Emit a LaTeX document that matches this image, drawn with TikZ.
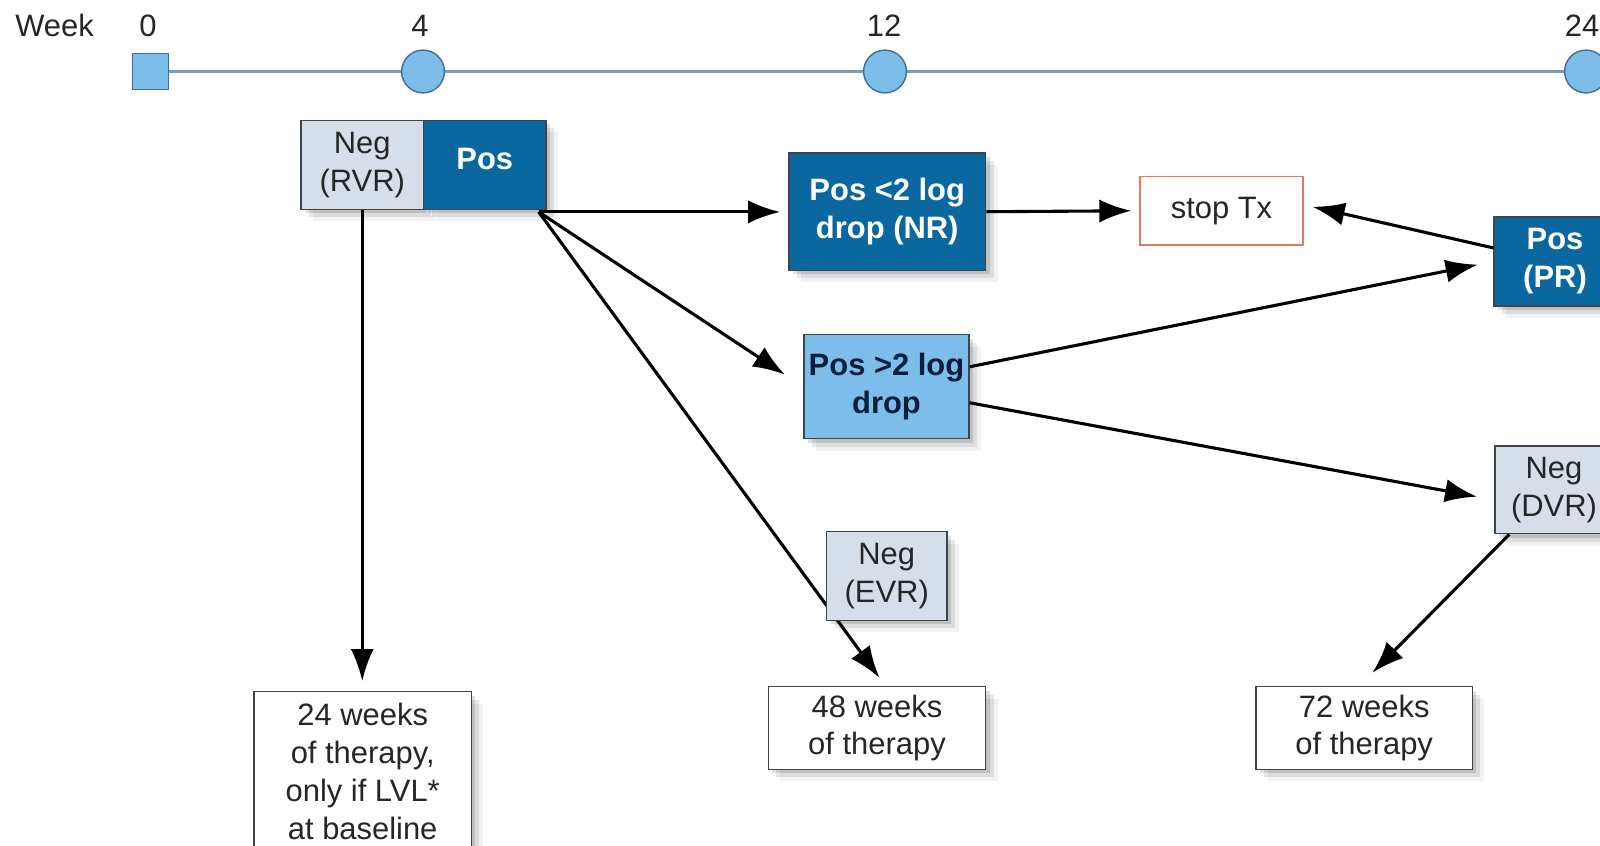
\documentclass[tikz,border=0pt]{standalone}
\usepackage{fontspec}
\setmainfont{Liberation Sans}
\usetikzlibrary{arrows.meta,shadows}
\definecolor{darkblue}{HTML}{0A679F}
\definecolor{lightblue}{HTML}{7DBDEA}
\definecolor{negfill}{HTML}{D6DEEA}
\definecolor{boxline}{HTML}{3C444C}
\definecolor{stopred}{HTML}{E27A62}
\definecolor{navytext}{HTML}{0B1E3C}
\definecolor{tline}{HTML}{7F9BB4}
\definecolor{markline}{HTML}{3D6F99}
\begin{document}
\begin{tikzpicture}[x=0.25mm,y=-0.25mm,
  txt/.style={font=\fontsize{22}{27}\selectfont, text=black!85, inner sep=0pt},
  softshadow/.style={
    drop shadow={shadow xshift=1mm, shadow yshift=-1mm, opacity=0.12, fill=black},
    drop shadow={shadow xshift=2mm, shadow yshift=-2mm, opacity=0.09, fill=black},
    drop shadow={shadow xshift=3mm, shadow yshift=-3mm, opacity=0.05, fill=black}},
  box/.style={txt, draw=boxline, line width=1pt, align=center, softshadow},
  negbox/.style={box, fill=negfill},
  whitebox/.style={box, fill=white},
  posbox/.style={box, fill=darkblue, text=white, font=\fontsize{22}{27}\selectfont\bfseries},
  ltbox/.style={box, fill=lightblue, text=navytext, font=\fontsize{22}{27}\selectfont\bfseries},
  stopbox/.style={txt, draw=stopred, line width=1pt, fill=white, align=center},
  marker/.style={draw=markline, fill=lightblue, line width=1pt, inner sep=0pt},
  arr/.style={-{Latex[length=8mm,width=5.8mm]}, line width=2.2pt, black}
]
\useasboundingbox (0,0) rectangle (1600,845);
\fill[white] (0,0) rectangle (1600,845);
\clip (0,0) rectangle (1600,845);

% timeline
\coordinate (t0) at (150.5,71.5);
\coordinate (t24) at (1586,71.5);
\draw[tline, line width=1.8pt] (t0) -- (t24);

% timeline labels
\node[txt] (week) at (54.6,25.5) {Week};
\node[txt] (l0) at (148,25.5) {0};
\node[txt] (l4) at (420,25.5) {4};
\node[txt] (l12) at (884,25.5) {12};
\node[txt] (l24) at (1582,25.5) {24};

% timeline markers
\node[marker, rectangle, minimum size=9mm] (sq) at (t0) {};
\node[marker, circle, minimum size=10.7mm] (c4) at (423,71.5) {};
\node[marker, circle, minimum size=10.7mm] (c12) at (885,71.5) {};
\node[marker, circle, minimum size=10.7mm] (c24) at (t24) {};

% boxes
\node[negbox, minimum width=30.6mm, minimum height=22.2mm] (RVR) at (362.25,164.8) {Neg\\(RVR)};
\node[posbox, minimum width=30.6mm, minimum height=22.2mm] (Pos) at (484.75,164.8) {\raisebox{3mm}{Pos}};
\node[posbox, minimum width=49.2mm, minimum height=29.35mm] (NR) at (887.25,211.7) {Pos <2 log\\drop (NR)};
\node[stopbox, minimum width=40.75mm, minimum height=17.1mm] (stop) at (1221.5,210.75) {stop Tx};
\node[posbox, minimum width=30.5mm, minimum height=22.25mm] (PR) at (1555,261.5) {Pos\\(PR)};
\node[ltbox, minimum width=41.25mm, minimum height=26mm] (P2) at (886.5,386.75) {Pos >2 log\\drop};
\node[negbox, minimum width=29.5mm, minimum height=21.9mm] (DVR) at (1554,489.85) {Neg\\(DVR)};
\node[whitebox, minimum width=54.35mm, minimum height=39.7mm] (W24) at (362.7,771.1) {24 weeks\\of therapy,\\only if LVL*\\at baseline};
\node[whitebox, minimum width=54.3mm, minimum height=20.7mm] (W48) at (877,728) {48 weeks\\of therapy};
\node[whitebox, minimum width=54.1mm, minimum height=20.7mm] (W72) at (1364.2,728) {72 weeks\\of therapy};

% arrows
\coordinate (po) at ([xshift=-2mm,yshift=-0.5mm]Pos.south east);
\draw[arr, shorten >=2mm] (po) -- (po -| NR.west);
\draw[arr, shorten >=5.5mm] (po) -- (P2.west);
\draw[arr, shorten >=2.5mm] (po) -- ([xshift=2.1mm]W48.north);
\draw[arr, shorten >=2.5mm] (RVR.south) -- (RVR.south |- W24.north);
\draw[arr, shorten >=2mm] (NR.east) -- (stop.west);
\draw[arr, shorten >=2.3mm] ([yshift=3.4mm]PR.west) -- ([yshift=1.5mm]stop.east);
\draw[arr, shorten >=4mm] ([yshift=5mm]P2.east) -- (PR.west);
\draw[arr, shorten >=4.4mm] ([yshift=-4mm]P2.east) -- ([yshift=-2.5mm]DVR.west);
\draw[arr, shorten >=4.6mm] ([xshift=3.75mm]DVR.south west) -- ([xshift=-1.2mm]W72.north);

% box drawn over the long arrow
\node[negbox, minimum width=30.1mm, minimum height=22.2mm] (EVR) at (886.75,576) {Neg\\(EVR)};
\end{tikzpicture}
\end{document}
